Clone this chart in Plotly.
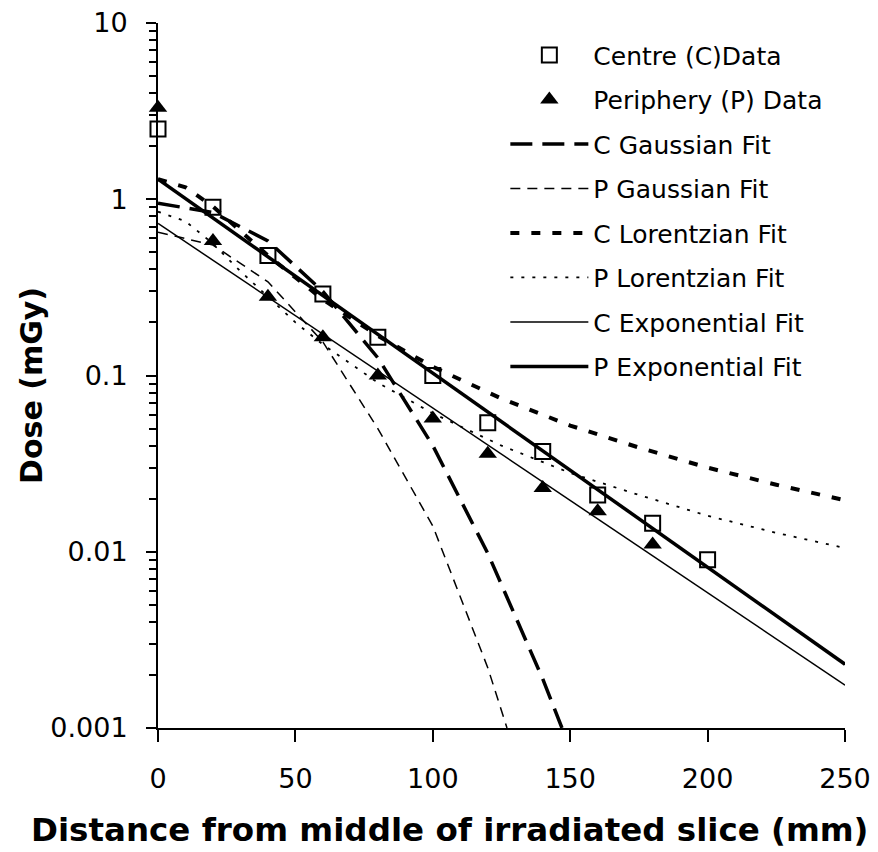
import plotly.graph_objects as go

# ---- Data ----
x_data_c = [0, 20, 40, 60, 80, 100, 120, 140, 160, 180, 200]
centre_data = [2.5, 0.9, 0.48, 0.29, 0.165, 0.1, 0.054, 0.037, 0.021, 0.0145, 0.009]

x_data_p = [0, 20, 40, 60, 80, 100, 120, 140, 160, 180]
periphery_data = [3.3, 0.58, 0.28, 0.165, 0.1, 0.057, 0.036, 0.023, 0.017, 0.011]

x_c_gauss = [0, 20, 40, 60, 80, 100, 120, 140, 147]
c_gauss = [0.95, 0.84, 0.58, 0.30, 0.126, 0.040, 0.0098, 0.0019, 0.001]

x_p_gauss = [0, 20, 40, 60, 80, 100, 120, 127]
p_gauss = [0.65, 0.55, 0.34, 0.155, 0.050, 0.014, 0.0022, 0.001]

x_lor = [0, 10, 20, 30, 40, 50, 60, 80, 100, 125, 150, 175, 200, 225, 250]
c_lor = [1.3, 1.17, 0.91, 0.66, 0.48, 0.36, 0.27, 0.168, 0.112, 0.074, 0.052, 0.039, 0.030, 0.024, 0.0196]
p_lor = [0.85, 0.75, 0.56, 0.39, 0.28, 0.20, 0.15, 0.091, 0.061, 0.040, 0.028, 0.021, 0.016, 0.0128, 0.0105]

x_exp = [0, 250]
c_exp = [0.73, 0.00175]
p_exp = [1.3, 0.0023]

x_ticks = [0, 50, 100, 150, 200, 250]
y_ticks = [0.001, 0.01, 0.1, 1, 10]
y_ticktext = ["0.001", "0.01", "0.1", "1", "10"]

x_title = "Distance from middle of irradiated slice (mm)"
y_title = "Dose (mGy)"

FONT = "DejaVu Sans, Liberation Sans, Arial, sans-serif"

fig = go.Figure()

fig.add_trace(go.Scatter(x=x_data_c, y=centre_data, mode="markers", name="Centre (C)Data",
                         legendgroup="a",
                         marker=dict(symbol="square", size=15, color="white",
                                     line=dict(color="black", width=2)),
                         cliponaxis=False))
fig.add_trace(go.Scatter(x=x_data_p, y=periphery_data, mode="markers", name="Periphery (P) Data",
                         legendgroup="b",
                         marker=dict(symbol="triangle-up", size=16, color="black",
                                     line=dict(color="black", width=0)),
                         cliponaxis=False))
fig.add_trace(go.Scatter(x=x_c_gauss, y=c_gauss, mode="lines", name="C Gaussian Fit",
                         legendgroup="c",
                         line=dict(color="black", width=3.5, dash="22px,10px")))
fig.add_trace(go.Scatter(x=x_p_gauss, y=p_gauss, mode="lines", name="P Gaussian Fit",
                         legendgroup="d",
                         line=dict(color="black", width=1.5, dash="10px,7px")))
fig.add_trace(go.Scatter(x=x_lor, y=c_lor, mode="lines", name="C Lorentzian Fit",
                         legendgroup="e",
                         line=dict(color="black", width=4, dash="9px,12px")))
fig.add_trace(go.Scatter(x=x_lor, y=p_lor, mode="lines", name="P Lorentzian Fit",
                         legendgroup="f",
                         line=dict(color="black", width=1.8, dash="3px,8px")))
fig.add_trace(go.Scatter(x=x_exp, y=c_exp, mode="lines", name="C Exponential Fit",
                         legendgroup="g",
                         line=dict(color="black", width=1.5)))
fig.add_trace(go.Scatter(x=x_exp, y=p_exp, mode="lines", name="P Exponential Fit",
                         legendgroup="h",
                         line=dict(color="black", width=3.5)))

minor_vals = [m * 10 ** e for e in range(-3, 1) for m in range(2, 10)]

fig.update_layout(
    width=870, height=844,
    margin=dict(l=150, r=33, t=15, b=124, autoexpand=False),
    paper_bgcolor="white", plot_bgcolor="white",
    font=dict(family=FONT, color="black", size=25),
    showlegend=True,
    legend=dict(x=0.5056, y=0.987, xanchor="left", yanchor="top",
                bgcolor="rgba(0,0,0,0)", font=dict(size=25, family=FONT),
                itemwidth=78, traceorder="grouped", tracegroupgap=9),
    xaxis=dict(range=[0, 250], tickvals=x_ticks, showgrid=False, zeroline=False,
               automargin=False,
               showline=True, linecolor="black", linewidth=2,
               ticks="outside", ticklen=12, tickwidth=2, tickcolor="black",
               ticklabelstandoff=14,
               tickfont=dict(size=27, family=FONT)),
    yaxis=dict(type="log", range=[-3, 1], tickvals=y_ticks, ticktext=y_ticktext,
               showgrid=False, zeroline=False, automargin=False,
               showline=True, linecolor="black", linewidth=2,
               ticks="outside", ticklen=10, tickwidth=2, tickcolor="black",
               ticklabelstandoff=13, ticklabeloverflow="allow",
               tickfont=dict(size=27, family=FONT),
               minor=dict(tickvals=minor_vals, ticks="outside", ticklen=7,
                          tickwidth=1.5, tickcolor="black", showgrid=False)),
    annotations=[
        dict(text="<b>" + x_title + "</b>", xref="paper", yref="paper",
             x=0.425, y=0, yshift=-102, xanchor="center", yanchor="middle",
             showarrow=False, font=dict(size=32.5, family=FONT)),
        dict(text="<b>" + y_title + "</b>", xref="paper", yref="paper",
             x=-0.1849, y=0.4865, xanchor="center", yanchor="middle",
             textangle=-90, showarrow=False, font=dict(size=30, family=FONT)),
    ],
)

fig.write_html("out.html")
